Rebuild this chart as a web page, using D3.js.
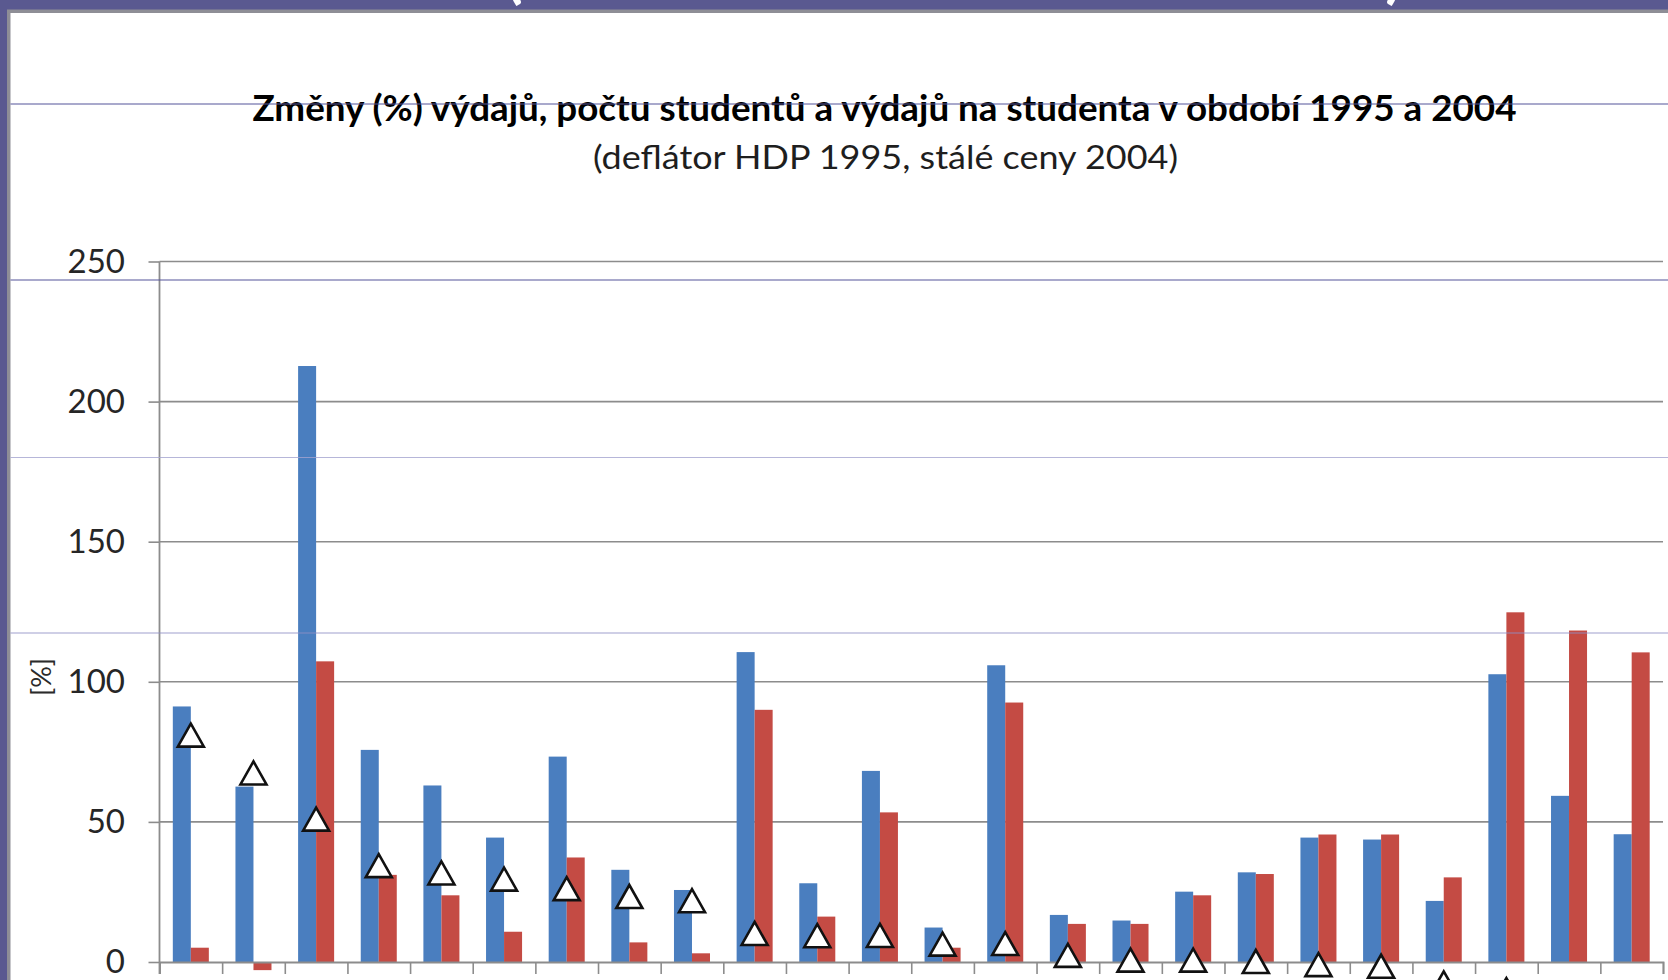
<!DOCTYPE html>
<html>
<head>
<meta charset="utf-8">
<script src="https://cdn.jsdelivr.net/npm/d3@7"></script>
<style>
  html, body { margin: 0; padding: 0; overflow: hidden; background: #5a5990; }
  svg { display: block; }
</style>
</head>
<body>
<svg id="chart" width="1668" height="980"></svg>
<script>
// ---------------- data ----------------
const categories = ["1","2","3","4","5","6","7","8","9","10","11","12",
                    "13","14","15","16","17","18","19","20","21","22","23","24"];
// change of expenditure (%) - blue bars
const expenditure = [91.2, 62.6, 212.7, 75.7, 63.0, 44.4, 73.3, 32.9, 25.7, 110.6, 28.1, 68.2,
                     12.3, 105.9, 16.8, 14.8, 25.1, 32.0, 44.4, 43.7, 21.8, 102.7, 59.3, 45.6];
// change of number of students (%) - red bars
const students    = [5.1, -2.9, 107.3, 31.1, 23.8, 10.8, 37.3, 7.0, 3.1, 90.0, 16.2, 53.4,
                     5.1, 92.6, 13.6, 13.6, 23.8, 31.4, 45.5, 45.5, 30.2, 124.8, 118.3, 110.5];
// change of expenditure per student (%) - triangles
const perStudent  = [80.8, 67.3, 50.8, 34.2, 31.6, 29.4, 26.0, 23.2, 21.7, 10.0, 9.2, 9.3,
                     6.2, 6.4, 2.2, 0.5, 0.5, 0.0, -1.1, -1.7, -7.6, -10.0, -27.0, -31.0];
const yTicks = [0, 50, 100, 150, 200, 250];
const titleText = "Změny (%) výdajů, počtu studentů a výdajů na studenta v období 1995 a 2004";
const subtitleText = "(deflátor HDP 1995, stálé ceny 2004)";
const yLabel = "[%]";

// ---------------- layout ----------------
const W = 1668, H = 980;
const plot = { left: 159.5, right: 1663, top: 261.5, bottom: 962 };
const svg = d3.select("#chart");

// slide frame
svg.append("rect").attr("x", 0).attr("y", 0).attr("width", W).attr("height", H).attr("fill", "#5a5990");
svg.append("rect").attr("x", 7).attr("y", 9.5).attr("width", W).attr("height", H).attr("fill", "#8e8e96");
svg.append("rect").attr("x", 10.5).attr("y", 13).attr("width", W).attr("height", H).attr("fill", "#ffffff");

// fragments of the slide heading in the top band
svg.append("clipPath").attr("id", "band").append("rect")
  .attr("x", 0).attr("y", 0).attr("width", W).attr("height", 9.5);
const band = svg.append("g").attr("clip-path", "url(#band)");
band.append("text").attr("x", 514).attr("y", -4).attr("text-anchor", "middle")
  .attr("font-family", "Lato, sans-serif").attr("font-weight", "bold").attr("font-size", 64)
  .attr("fill", "#ffffff").text("(");
band.append("text").attr("x", 1394).attr("y", -4).attr("text-anchor", "middle")
  .attr("font-family", "Lato, sans-serif").attr("font-weight", "bold").attr("font-size", 64)
  .attr("fill", "#ffffff").text(")");

// titles
svg.append("text").attr("x", 252.5).attr("y", 121)
  .attr("font-family", "Lato, sans-serif").attr("font-weight", "bold").attr("font-size", 37)
  .attr("fill", "#000").attr("textLength", 1264).attr("lengthAdjust", "spacingAndGlyphs")
  .text(titleText);
svg.append("text").attr("x", 593).attr("y", 169)
  .attr("font-family", "Lato, sans-serif").attr("font-size", 32)
  .attr("fill", "#1e1e1e").attr("textLength", 585).attr("lengthAdjust", "spacingAndGlyphs")
  .text(subtitleText);

// ---------------- scales ----------------
const y = d3.scaleLinear().domain([0, 250]).range([plot.bottom, plot.top]);
const x0 = d3.scaleBand().domain(categories).range([plot.left, plot.right])
  .paddingInner(0.425).paddingOuter(0.2125);
const series = ["exp", "stu"];
const x1 = d3.scaleBand().domain(series).range([0, x0.bandwidth()]);
const xEdge = d3.scaleLinear().domain([0, categories.length]).range([plot.left, plot.right]);

// gridlines
svg.append("g").selectAll("line").data(yTicks.slice(1)).join("line")
  .attr("x1", plot.left).attr("x2", plot.right)
  .attr("y1", d => y(d)).attr("y2", d => y(d))
  .attr("stroke", "#8c8c8c").attr("stroke-width", 1.6);

// y axis
const yAxis = svg.append("g").attr("transform", `translate(${plot.left},0)`)
  .call(d3.axisLeft(y).tickValues(yTicks).tickSize(11).tickPadding(23.5).tickFormat(d3.format("d")));
yAxis.select(".domain").remove();
yAxis.selectAll(".tick line").attr("stroke", "#8c8c8c").attr("stroke-width", 1.6);
yAxis.selectAll(".tick text").attr("font-family", "Lato, sans-serif").attr("font-size", 33)
  .attr("fill", "#262626");
svg.append("line").attr("x1", plot.left).attr("x2", plot.left)
  .attr("y1", y(250)).attr("y2", plot.bottom + 12)
  .attr("stroke", "#8c8c8c").attr("stroke-width", 1.8);

// y label
svg.append("text").attr("transform", "translate(40,677) rotate(-90)")
  .attr("text-anchor", "middle").attr("dominant-baseline", "central")
  .attr("font-family", "Lato, sans-serif").attr("font-size", 27).attr("fill", "#2a2a2a")
  .text(yLabel);

// bars
const rows = categories.map((c, i) => ({ c, exp: expenditure[i], stu: students[i], per: perStudent[i] }));
const colors = { exp: "#4a7ebf", stu: "#c44b44" };
const groups = svg.append("g").selectAll("g").data(rows).join("g")
  .attr("transform", d => `translate(${x0(d.c)},0)`);
groups.selectAll("rect").data(d => series.map(k => ({ k, v: d[k] }))).join("rect")
  .attr("x", d => x1(d.k)).attr("width", x1.bandwidth())
  .attr("y", d => Math.min(y(d.v), y(0)))
  .attr("height", d => Math.abs(y(d.v) - y(0)))
  .attr("fill", d => colors[d.k]);

// x axis (ticks between categories)
const xAxis = svg.append("g").attr("transform", `translate(0,${plot.bottom})`)
  .call(d3.axisBottom(xEdge).tickValues(d3.range(0, categories.length + 1)).tickSize(12).tickFormat(""));
xAxis.select(".domain").attr("stroke", "#8c8c8c").attr("stroke-width", 1.8);
xAxis.selectAll(".tick line").attr("stroke", "#8c8c8c").attr("stroke-width", 1.6);

// triangle markers
const tri = "M0,-12L13,11L-13,11Z";
svg.append("g").selectAll("path").data(rows).join("path")
  .attr("transform", d => `translate(${x0(d.c) + x0.bandwidth() / 2},${y(d.per)})`)
  .attr("d", tri).attr("fill", "#ffffff").attr("stroke", "#111111").attr("stroke-width", 2.6)
  .attr("stroke-linejoin", "miter");

// thin slide guide lines on top
const guides = [{ y: 104, c: "#55559a", o: 1 }, { y: 280, c: "#55559a", o: 1 },
                { y: 457.5, c: "#a4a4d0", o: 0.8 }, { y: 633, c: "#8f8fc4", o: 0.85 }];
svg.append("g").selectAll("line").data(guides).join("line")
  .attr("x1", 10.5).attr("x2", W).attr("y1", d => d.y).attr("y2", d => d.y)
  .attr("stroke", d => d.c).attr("stroke-opacity", d => d.o).attr("stroke-width", 1.2);
</script>
</body>
</html>
